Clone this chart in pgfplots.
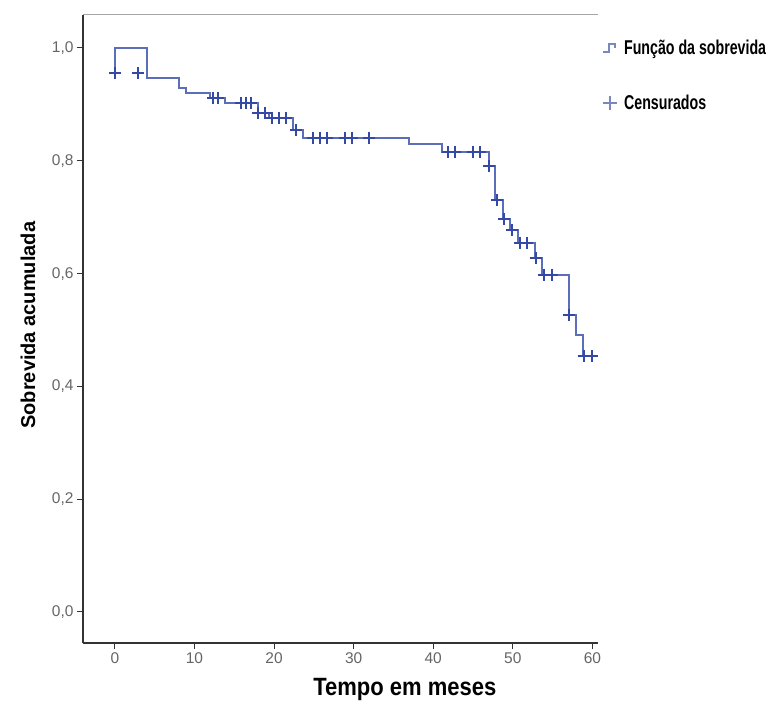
\documentclass[border=0pt]{standalone}
\usepackage{fontspec}
\setmainfont{Liberation Sans}
\newfontfamily\narrowfont[FakeStretch=0.71]{Liberation Sans}
\newfontfamily\labfont[FakeStretch=0.88]{Liberation Sans}
\usepackage{pgfplots}
\pgfplotsset{compat=1.18}
\definecolor{kmline}{RGB}{92,110,186}
\definecolor{kmmark}{RGB}{52,72,165}
\definecolor{legicon}{RGB}{120,135,190}
\begin{document}
\begin{tikzpicture}[x=1pt,y=1pt]
\path[use as bounding box] (-83,-60) rectangle (692,643);
\begin{axis}[
  at={(0,0)}, anchor=south west,
  width=515pt, height=628pt, scale only axis,
  xmin=-4, xmax=60.7, ymin=-0.055, ymax=1.0585,
  axis lines*=left,
  axis line style={draw=black!80, line width=1.1pt},
  xtick={0,10,20,30,40,50,60},
  ytick={0,0.2,0.4,0.6,0.8,1.0},
  tick align=outside, major tick length=6pt,
  tick style={draw=black!80, line width=1pt},
  /pgf/number format/assume math mode=true,
  yticklabel style={/pgf/number format/.cd, fixed, fixed zerofill, precision=1, use comma},
  ticklabel style={font=\fontsize{15.5}{15.5}\selectfont, text=black!60},
  xlabel={Tempo em meses},
  ylabel={Sobrevida acumulada},
  xlabel style={font=\labfont\bfseries\fontsize{25}{25}\selectfont, at={(axis description cs:0.625,-0.074)}, anchor=center},
  ylabel style={font=\bfseries\fontsize{20}{20}\selectfont, at={(axis description cs:-0.107,0.506)}, anchor=center},
  legend style={at={(axis description cs:1,1)}, anchor=north west, draw=none, fill=none,
    xshift=1pt, yshift=-21pt, row sep=35pt,
    font=\narrowfont\bfseries\fontsize{20}{20}\selectfont},
  legend cell align=left,
  clip=false,
]
\draw[black!35, line width=1pt] (rel axis cs:0,1) -- (rel axis cs:1,1);
\addplot[const plot, kmline, line width=2pt,
  legend image code/.code={\draw[legicon, line width=1.8pt] (0pt,-4pt) -- (6pt,-4pt) -- (6pt,4pt) -- (12pt,4pt) -- (12pt,0pt); \path (18pt,0pt);}]
coordinates {
(0,0.955) (0,1.0) (4,0.946) (8,0.929) (8.9,0.921) (12,0.912) (13.9,0.903)
(18,0.884) (19.4,0.875) (22.4,0.855) (23.7,0.841) (37,0.829) (41.1,0.815)
(47,0.790) (47.8,0.730) (48.8,0.696) (49.7,0.677) (50.6,0.654) (52.8,0.628)
(53.7,0.598) (57,0.527) (57.9,0.491) (58.8,0.453) (60.4,0.453)
};
\addlegendentry{Função da sobrevida}
\addplot[only marks, mark=+, mark size=6pt, mark options={draw=kmmark, line width=2pt},
  legend image code/.code={\draw[legicon, line width=1.6pt] (7pt,-7pt) -- (7pt,7pt) (0pt,0pt) -- (14pt,0pt); \path (18pt,0pt);}]
coordinates {
(0,0.955) (2.9,0.955) (12.3,0.912) (13.0,0.912) (15.85,0.903) (16.5,0.903) (17.1,0.903)
(18.0,0.884) (18.9,0.884) (19.8,0.875) (20.6,0.875) (21.5,0.875) (22.8,0.855)
(24.9,0.841) (25.8,0.841) (26.7,0.841) (28.9,0.841) (29.8,0.841) (31.9,0.841)
(41.8,0.815) (42.7,0.815) (45.0,0.815) (45.9,0.815) (47.0,0.790) (48.0,0.730)
(48.9,0.696) (49.9,0.677) (50.9,0.654) (51.8,0.654) (52.9,0.628) (53.9,0.598)
(54.9,0.598) (57.0,0.527) (58.9,0.453) (60.0,0.453)
};
\addlegendentry{Censurados}
\end{axis}
\end{tikzpicture}
\end{document}
